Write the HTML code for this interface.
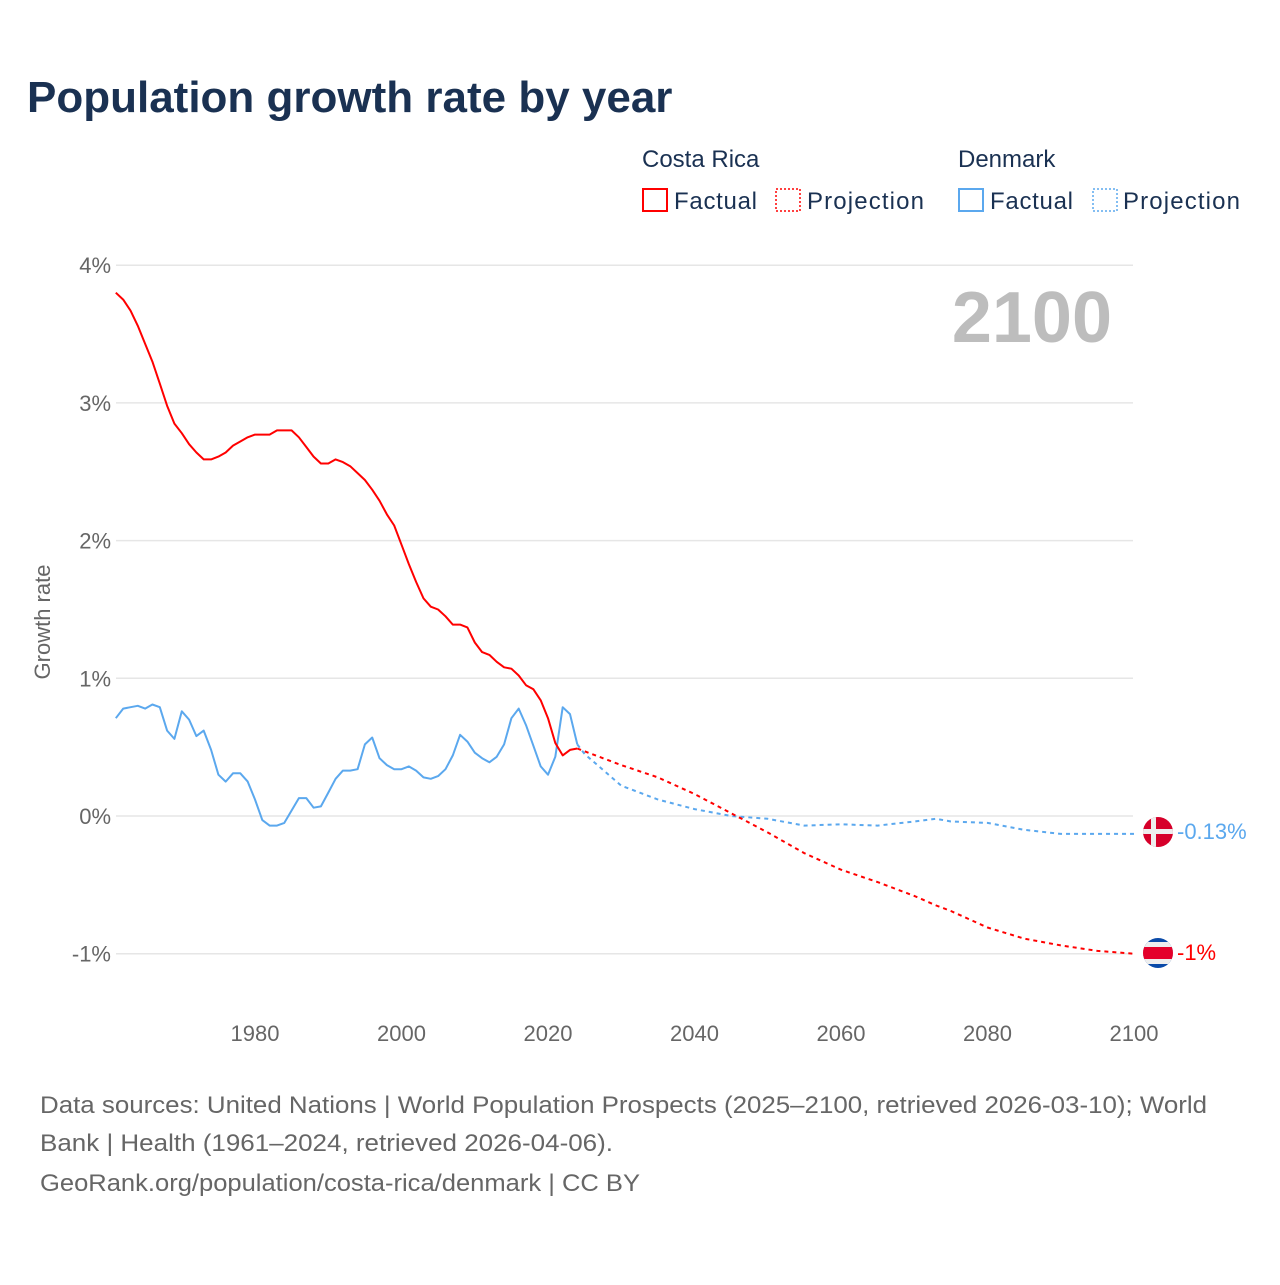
<!DOCTYPE html>
<html><head><meta charset="utf-8"><style>
body{margin:0;background:#fff;font-family:"Liberation Sans",sans-serif;}
svg text{font-family:"Liberation Sans",sans-serif;}
</style></head><body>
<svg width="1280" height="1280" viewBox="0 0 1280 1280">
<text x="27" y="112" font-size="44" font-weight="bold" fill="#1a3152">Population growth rate by year</text>
<g font-size="24" fill="#1a3152">
<text x="642" y="167" fill="#1a3152">Costa Rica</text>
<text x="958" y="167" fill="#1a3152">Denmark</text>
<rect x="643" y="189" width="24" height="22" fill="none" stroke="#f00" stroke-width="2"/>
<text x="674" y="209" fill="#1a3152" textLength="83">Factual</text>
<rect x="776" y="189" width="24" height="22" fill="none" stroke="#f00" stroke-width="1.5" stroke-dasharray="2,2"/>
<text x="807" y="209" fill="#1a3152" textLength="117">Projection</text>
<rect x="959" y="189" width="24" height="22" fill="none" stroke="#5ba8ee" stroke-width="2"/>
<text x="990" y="209" fill="#1a3152" textLength="83">Factual</text>
<rect x="1093" y="189" width="24" height="22" fill="none" stroke="#5ba8ee" stroke-width="1.5" stroke-dasharray="2,2"/>
<text x="1123" y="209" fill="#1a3152" textLength="117">Projection</text>
</g>
<text x="1112" y="342" font-size="72" font-weight="bold" fill="#bdbdbd" text-anchor="end">2100</text>
<g id="grid"></g>
<g id="xt"></g>
<text transform="translate(50,622) rotate(-90)" font-size="22" fill="#666" text-anchor="middle">Growth rate</text>
<g id="lines"></g>
<g>
<clipPath id="c1"><circle cx="1158" cy="832" r="15"/></clipPath>
<g clip-path="url(#c1)"><rect x="1140" y="814" width="40" height="40" fill="#d6002a"/><rect x="1140" y="829" width="40" height="5" fill="#eee"/><rect x="1151" y="814" width="5" height="40" fill="#eee"/></g>
</g>
<text x="1177" y="839" font-size="22" fill="#5ba8ee">-0.13%</text>
<g>
<clipPath id="c2"><circle cx="1158" cy="953" r="15"/></clipPath>
<g clip-path="url(#c2)"><rect x="1140" y="935" width="40" height="40" fill="#0a4aa8"/><rect x="1140" y="942" width="40" height="22" fill="#eee"/><rect x="1140" y="947" width="40" height="12" fill="#e4002b"/></g>
</g>
<text x="1177" y="960" font-size="22" fill="#f00">-1%</text>
<g font-size="24" fill="#666">
<text x="40" y="1113" textLength="1167" lengthAdjust="spacingAndGlyphs">Data sources: United Nations | World Population Prospects (2025–2100, retrieved 2026-03-10); World</text>
<text x="40" y="1151" textLength="573" lengthAdjust="spacingAndGlyphs">Bank | Health (1961–2024, retrieved 2026-04-06).</text>
<text x="40" y="1191" textLength="600" lengthAdjust="spacingAndGlyphs">GeoRank.org/population/costa-rica/denmark | CC BY</text>
</g>
</svg>
<script>
const yTicks=[4,3,2,1,0,-1];
const yTickLabels=["4%","3%","2%","1%","0%","-1%"];
const xTicks=[1980,2000,2020,2040,2060,2080,2100];
const crYears=[1961,1962,1963,1964,1965,1966,1967,1968,1969,1970,1971,1972,1973,1974,1975,1976,1977,1978,1979,1980,1981,1982,1983,1984,1985,1986,1987,1988,1989,1990,1991,1992,1993,1994,1995,1996,1997,1998,1999,2000,2001,2002,2003,2004,2005,2006,2007,2008,2009,2010,2011,2012,2013,2014,2015,2016,2017,2018,2019,2020,2021,2022,2023,2024];
const crFactual=[3.80,3.75,3.67,3.56,3.43,3.30,3.14,2.98,2.85,2.78,2.70,2.64,2.59,2.59,2.61,2.64,2.69,2.72,2.75,2.77,2.77,2.77,2.80,2.80,2.80,2.75,2.68,2.61,2.56,2.56,2.59,2.57,2.54,2.49,2.44,2.37,2.29,2.19,2.11,1.97,1.83,1.70,1.58,1.52,1.50,1.45,1.39,1.39,1.37,1.26,1.19,1.17,1.12,1.08,1.07,1.02,0.95,0.92,0.84,0.71,0.53,0.44,0.48,0.49];
const dkFactual=[0.71,0.78,0.79,0.80,0.78,0.81,0.79,0.62,0.56,0.76,0.70,0.58,0.62,0.48,0.30,0.25,0.31,0.31,0.25,0.12,-0.03,-0.07,-0.07,-0.05,0.04,0.13,0.13,0.06,0.07,0.17,0.27,0.33,0.33,0.34,0.52,0.57,0.42,0.37,0.34,0.34,0.36,0.33,0.28,0.27,0.29,0.34,0.44,0.59,0.54,0.46,0.42,0.39,0.43,0.52,0.71,0.78,0.66,0.51,0.36,0.30,0.43,0.79,0.74,0.52];
const projYears=[2024,2025,2030,2035,2040,2045,2050,2055,2060,2065,2070,2073,2075,2080,2085,2090,2095,2100];
const crProj=[0.49,0.47,0.37,0.28,0.16,0.02,-0.12,-0.27,-0.39,-0.48,-0.58,-0.65,-0.69,-0.81,-0.89,-0.94,-0.98,-1.0];
const dkProj=[0.52,0.45,0.22,0.12,0.05,0.0,-0.02,-0.07,-0.06,-0.07,-0.04,-0.02,-0.04,-0.05,-0.10,-0.13,-0.13,-0.13];
const X=y=>255+(y-1980)*7.325, Y=v=>816-137.7*v;
const NS="http://www.w3.org/2000/svg";
const grid=document.getElementById('grid'),xt=document.getElementById('xt'),lines=document.getElementById('lines');
yTicks.forEach((t,i)=>{
 const l=document.createElementNS(NS,'line');
 l.setAttribute('x1',116);l.setAttribute('x2',1133);l.setAttribute('y1',Y(t));l.setAttribute('y2',Y(t));
 l.setAttribute('stroke','#e6e6e6');l.setAttribute('stroke-width','1.5');
 
 
 grid.appendChild(l);
 const tx=document.createElementNS(NS,'text');
 tx.setAttribute('x',111);tx.setAttribute('y',Y(t)+8);tx.setAttribute('text-anchor','end');
 tx.setAttribute('font-size','22');tx.setAttribute('fill','#666');tx.textContent=yTickLabels[i];
 
 
 grid.appendChild(tx);
});
xTicks.forEach(t=>{
 const tx=document.createElementNS(NS,'text');
 tx.setAttribute('x',X(t));tx.setAttribute('y',1041);tx.setAttribute('text-anchor','middle');
 tx.setAttribute('font-size','22');tx.setAttribute('fill','#666');tx.textContent=t;
 
 
 xt.appendChild(tx);
});
function path(xs,vs,color,dash,name){
 const p=document.createElementNS(NS,'path');
 p.setAttribute('d',xs.map((x,i)=>(i?'L':'M')+X(x).toFixed(1)+','+Y(vs[i]).toFixed(1)).join(''));
 p.setAttribute('fill','none');p.setAttribute('stroke',color);p.setAttribute('stroke-width','2');
 p.setAttribute('stroke-linejoin','round');
 if(dash)p.setAttribute('stroke-dasharray','4,4');
 
 
 lines.appendChild(p);
}
path(projYears,dkProj,'#5ba8ee',true,'denmark-projection-line');
path(projYears,crProj,'#f00',true,'costa-rica-projection-line');
path(crYears,dkFactual,'#5ba8ee',false,'denmark-factual-line');
path(crYears,crFactual,'#f00',false,'costa-rica-factual-line');
</script>
</body></html>
